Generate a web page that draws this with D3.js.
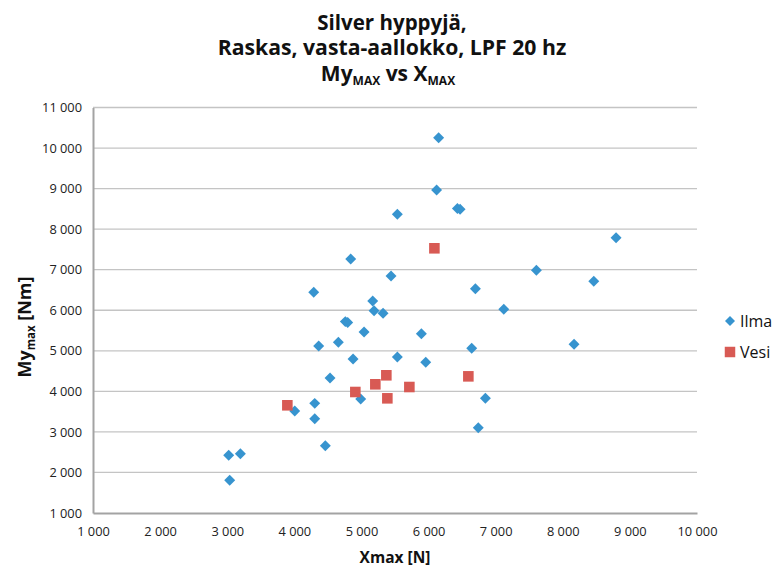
<!DOCTYPE html>
<html>
<head>
<meta charset="utf-8">
<script src="https://cdn.jsdelivr.net/npm/d3@7"></script>
<style>
  body { margin: 0; background: #ffffff; }
  svg text { font-family: "Open Sans", "Noto Sans", sans-serif; fill: #111; }
</style>
</head>
<body>
<div id="chart"></div>
<script>
// Ilma (ilma) and Vesi (vesi) points
var ilmaX = [6150, 6120, 6430, 6470, 5535, 4840, 5441, 4289, 5168, 5188, 5322, 4760, 4795,
             8794, 7607, 8462, 6698, 7121, 5039, 4363, 4656, 5893, 4875, 5535, 5958, 4532,
             4989, 4006, 4304, 4304, 4462, 3022, 3196, 3037, 6643, 8168, 6847, 6741];
var ilmaY = [10255, 8965, 8510, 8490, 8366, 7264, 6845, 6442, 6228, 5989, 5925, 5720, 5700,
             7790, 6985, 6714, 6532, 6023, 5464, 5118, 5210, 5422, 4798, 4847, 4716, 4329,
             3811, 3515, 3704, 3326, 2660, 2423, 2462, 1806, 5061, 5160, 3828, 3104];
var vesiX = [6087, 5371, 5207, 5714, 4909, 5386, 3896, 6593];
var vesiY = [7528, 4396, 4174, 4107, 3984, 3828, 3656, 4370];

var xTicks = [1000, 2000, 3000, 4000, 5000, 6000, 7000, 8000, 9000, 10000];
var yTicks = [1000, 2000, 3000, 4000, 5000, 6000, 7000, 8000, 9000, 10000, 11000];
var seriesNames = ["Ilma", "Vesi"];
var titleLines = ["Silver hyppyjä,", "Raskas, vasta-aallokko, LPF 20 hz"];

var W = 780, H = 570;
var colors = { Ilma: "#3794cf", Vesi: "#d85a54" };

// Suomalainen numeromuoto: "1 000"
var fi = d3.formatLocale({ decimal: ",", thousands: "\u00a0", grouping: [3], currency: ["", " €"] });
var fmt = fi.format(",d");

var svg = d3.select("#chart").append("svg")
    .attr("width", W)
    .attr("height", H);

var x = d3.scaleLinear().domain([1000, 10000]).range([93, 697]);
var y = d3.scaleLinear().domain([1000, 11000]).range([513, 107.5]);

// Otsikko
svg.append("g").selectAll("text")
    .data(titleLines)
    .enter().append("text")
    .attr("x", 392)
    .attr("y", (d, i) => 30 + i * 25)
    .attr("text-anchor", "middle")
    .style("font-weight", "bold")
    .style("font-size", (d, i) => i === 0 ? "20.5px" : "21.2px")
    .text(d => d);

var t3 = svg.append("text")
    .attr("x", 388).attr("y", 81)
    .attr("text-anchor", "middle")
    .style("font-weight", "bold")
    .style("font-size", "21px");
t3.append("tspan").text("My");
t3.append("tspan").attr("dy", 4).style("font-size", "12px").text("MAX");
t3.append("tspan").attr("dy", -4).text(" vs X");
t3.append("tspan").attr("dy", 4).style("font-size", "12px").text("MAX");

// Ruudukko
svg.append("g")
    .selectAll("line")
    .data(yTicks.slice(1))
    .enter().append("line")
    .attr("x1", x(1000)).attr("x2", x(10000))
    .attr("y1", d => y(d)).attr("y2", d => y(d))
    .style("stroke", "#c4c4c4")
    .style("stroke-width", 1.3);

// Akselit
var yAxis = svg.append("g")
    .attr("transform", `translate(${x(1000)},0)`)
    .call(d3.axisLeft(y).tickValues(yTicks).tickFormat(fmt).tickSize(0).tickPadding(11));
var xAxis = svg.append("g")
    .attr("transform", `translate(0,${y(1000)})`)
    .call(d3.axisBottom(x).tickValues(xTicks).tickFormat(fmt).tickSize(0).tickPadding(14));

[xAxis, yAxis].forEach(a => {
    a.select(".domain").style("stroke", "#a3a3a3").style("stroke-width", 2);
    a.selectAll("text")
        .style("font-family", "'Open Sans', sans-serif")
        .style("font-size", "12.8px")
        .style("fill", "#222");
});

// Akselien otsikot
svg.append("text")
    .attr("x", 395).attr("y", 563)
    .attr("text-anchor", "middle")
    .style("font-weight", "bold")
    .style("font-size", "15.5px")
    .text("Xmax [N]");

var yl = svg.append("text")
    .attr("transform", "translate(31,327) rotate(-90)")
    .attr("text-anchor", "middle")
    .style("font-weight", "bold")
    .style("font-size", "18px");
yl.append("tspan").text("My");
yl.append("tspan").attr("dy", 4).style("font-size", "11.5px").text("max");
yl.append("tspan").attr("dy", -4).text(" [Nm]");

// Pisteet
var diamond = d3.symbol().type(d3.symbolSquare).size(60);
var square = d3.symbol().type(d3.symbolSquare).size(112);

var ilma = ilmaX.map((v, i) => ({ x: v, y: ilmaY[i] }));
var vesi = vesiX.map((v, i) => ({ x: v, y: vesiY[i] }));

svg.append("g").selectAll("path")
    .data(ilma)
    .enter().append("path")
    .attr("d", diamond)
    .attr("transform", d => `translate(${x(d.x)},${y(d.y)}) rotate(45)`)
    .style("fill", colors.Ilma);

svg.append("g").selectAll("path")
    .data(vesi)
    .enter().append("path")
    .attr("d", square)
    .attr("transform", d => `translate(${x(d.x)},${y(d.y)})`)
    .style("fill", colors.Vesi);

// Selite
var legend = svg.append("g").selectAll("g")
    .data(seriesNames)
    .enter().append("g")
    .attr("transform", (d, i) => `translate(730,${321 + i * 31})`);

legend.append("path")
    .attr("d", (d, i) => i === 0 ? d3.symbol().type(d3.symbolSquare).size(50)() : d3.symbol().type(d3.symbolSquare).size(110)())
    .attr("transform", (d, i) => i === 0 ? "rotate(45)" : "")
    .style("fill", d => colors[d]);

legend.append("text")
    .attr("x", 10)
    .attr("y", 5.5)
    .style("font-size", "16px")
    .text(d => d);
</script>
</body>
</html>
